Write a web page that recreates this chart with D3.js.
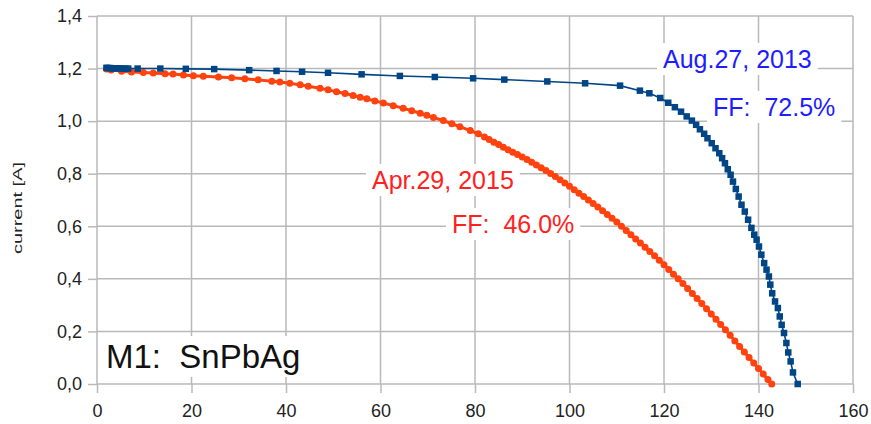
<!DOCTYPE html>
<html><head><meta charset="utf-8">
<script src="https://cdn.jsdelivr.net/npm/d3@7"></script>
<style>html,body{margin:0;padding:0;background:#fff;}svg{display:block;font-family:"Liberation Sans",Arial,sans-serif;}</style>
</head><body>
<svg id="c" width="871" height="424"></svg>
<script>
const xTicks = [0,20,40,60,80,100,120,140,160];
const yTicks = [0,0.2,0.4,0.6,0.8,1.0,1.2,1.4];

// Aug.27, 2013 series (voltage, current)
const blueX = [2.0,2.4,2.8,3.2,3.7,4.2,4.8,5.4,6.0,6.6,8.6,13.4,18.8,24.8,32.2,38.0,43.4,48.9,56.0,64.1,71.5,79.6,86.2,95.3,103.3,110.7,114.9,116.9,119.2,120.9,122.3,123.6,124.8,125.9,126.8,127.6,128.5,129.2,130.1,130.9,131.7,132.3,132.9,133.5,134.1,134.6,135.2,135.8,136.4,137.1,137.8,138.5,139.1,139.6,140.1,140.6,141.2,141.7,142.2,142.5,142.9,143.5,144.1,144.5,144.9,145.4,145.9,146.3,146.8,147.3,148.3];
const blueY = [1.203,1.202,1.202,1.201,1.201,1.201,1.201,1.200,1.200,1.200,1.200,1.200,1.199,1.198,1.194,1.191,1.188,1.184,1.178,1.172,1.168,1.163,1.158,1.151,1.144,1.135,1.116,1.106,1.088,1.070,1.053,1.036,1.018,1.002,0.986,0.969,0.952,0.935,0.916,0.897,0.878,0.859,0.840,0.817,0.796,0.770,0.742,0.713,0.682,0.656,0.625,0.594,0.568,0.549,0.523,0.492,0.460,0.435,0.409,0.378,0.345,0.314,0.289,0.257,0.225,0.194,0.156,0.120,0.086,0.044,0.000];

// Apr.29, 2015 series (voltage, current)
const redX = [2.0,3.0,5.2,7.3,9.8,11.9,14.4,16.1,18.3,20.4,22.5,25.7,28.5,31.3,34.1,37.0,38.7,40.8,43.0,44.7,47.2,48.9,50.7,52.5,54.2,55.7,57.1,58.8,60.6,62.7,64.8,66.6,68.4,69.8,71.2,73.3,75.1,76.8,79.0,80.7,82.0,83,84,85,86,87,88,89,90,91,92,93,94,95,96,97,98,99,100,101,102,103,104,105,106,107,108,109,110,111,112,113,114,115,116,117,118,119,120,121,122,123,124,125,126,127,128,129,130,131,132,133,134,135,136,137,138,139,140,141,142,142.8];
const redY = [1.198,1.195,1.190,1.187,1.185,1.183,1.180,1.179,1.176,1.173,1.171,1.168,1.165,1.161,1.157,1.152,1.149,1.144,1.138,1.133,1.125,1.119,1.112,1.105,1.098,1.091,1.085,1.077,1.069,1.059,1.049,1.040,1.030,1.022,1.014,1.002,0.990,0.979,0.964,0.952,0.940,0.930,0.920,0.911,0.901,0.891,0.882,0.873,0.864,0.854,0.844,0.833,0.823,0.812,0.801,0.789,0.777,0.765,0.752,0.739,0.726,0.713,0.700,0.687,0.673,0.659,0.645,0.631,0.616,0.600,0.584,0.568,0.552,0.536,0.520,0.504,0.488,0.471,0.454,0.436,0.418,0.400,0.382,0.363,0.344,0.325,0.306,0.286,0.266,0.246,0.226,0.206,0.185,0.164,0.143,0.122,0.101,0.080,0.059,0.038,0.017,0.000];

const yTitle = "current [A]";
const labels = [
  {text:"Aug.27, 2013", x:663, y:68, color:"#1d1dff", size:25},
  {text:"FF:  72.5%", x:713, y:116, color:"#1d1dff", size:25},
  {text:"Apr.29, 2015", x:372, y:189, color:"#ff2020", size:25},
  {text:"FF:  46.0%", x:452, y:233, color:"#ff2020", size:25},
  {text:"M1:  SnPbAg", x:106, y:368, color:"#111111", size:33}
];

const svg = d3.select("#c");
const x = d3.scaleLinear().domain([0,160]).range([97,853]);
const y = d3.scaleLinear().domain([0,1.4]).range([384,16]);
const gridColor = "#b9b9b9";
const fmt = v => d3.format(".1f")(v).replace(".", ",");

// grid
svg.append("g").selectAll("line").data(yTicks).join("line")
  .attr("x1", x(0)).attr("x2", x(160)).attr("y1", d=>y(d)).attr("y2", d=>y(d))
  .attr("stroke", gridColor).attr("stroke-width", 1.5);
svg.append("g").selectAll("line").data(xTicks).join("line")
  .attr("y1", y(0)).attr("y2", y(1.4)).attr("x1", d=>x(d)).attr("x2", d=>x(d))
  .attr("stroke", gridColor).attr("stroke-width", 1.5);

// axes
const ya = svg.append("g").attr("transform", `translate(${x(0)},0)`)
  .call(d3.axisLeft(y).tickValues(yTicks).tickSize(9).tickPadding(6).tickFormat(fmt));
const xa = svg.append("g").attr("transform", `translate(0,${y(0)})`)
  .call(d3.axisBottom(x).tickValues(xTicks).tickSize(9).tickPadding(11).tickFormat(d3.format("d")));
[ya, xa].forEach(g => {
  g.select(".domain").remove();
  g.selectAll(".tick line").attr("stroke", gridColor).attr("stroke-width", 1.5);
  g.selectAll(".tick text").attr("fill", "#222").style("font-size", "18px").style("font-family", '"Liberation Sans", Arial, sans-serif');
});

// y title
svg.append("text").attr("transform", "translate(22,208) rotate(-90)")
  .attr("text-anchor", "middle").attr("fill", "#222").style("font-size", "13px")
  .attr("textLength", 92).attr("lengthAdjust", "spacingAndGlyphs").text(yTitle);

// labels with white boxes
const lg = svg.append("g");
labels.forEach(l => {
  const t = lg.append("text").attr("x", l.x).attr("y", l.y).attr("fill", l.color)
    .attr("xml:space", "preserve").style("white-space", "pre")
    .style("font-size", l.size + "px").text(l.text);
  const b = t.node().getBBox();
  lg.insert("rect", "text").attr("x", b.x - 6).attr("y", b.y - 2).attr("width", b.width + 12).attr("height", b.height + 4)
    .attr("fill", "#fff");
});

// red series
const red = redX.map((v,i)=>[v, redY[i]]);
const blue = blueX.map((v,i)=>[v, blueY[i]]);
const line = d3.line().x(d=>x(d[0])).y(d=>y(d[1]));
svg.append("path").datum(red).attr("d", line).attr("fill","none").attr("stroke","#ff420e").attr("stroke-width",3);
svg.append("g").selectAll("circle").data(red).join("circle")
  .attr("cx", d=>x(d[0])).attr("cy", d=>y(d[1])).attr("r", 3.5).attr("fill", "#ff420e");

// blue series
svg.append("path").datum(blue).attr("d", line).attr("fill","none").attr("stroke","#004586").attr("stroke-width",1.6);
const s = 6.5;
svg.append("g").selectAll("rect").data(blue).join("rect")
  .attr("x", d=>x(d[0]) - s/2).attr("y", d=>y(d[1]) - s/2).attr("width", s).attr("height", s).attr("fill", "#004586");
</script>
</body></html>
